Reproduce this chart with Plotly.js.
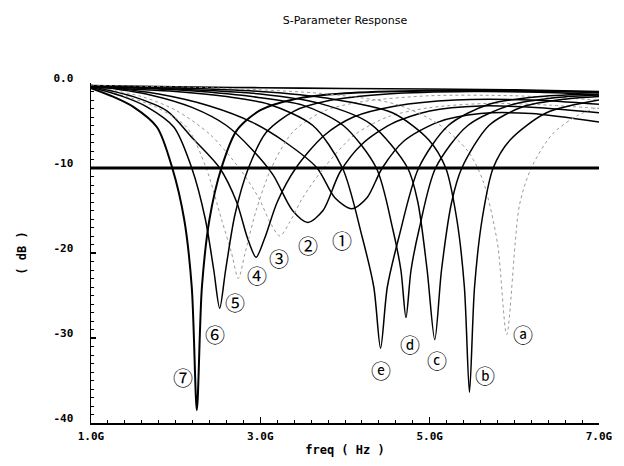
<!DOCTYPE html>
<html><head><meta charset="utf-8">
<script src="https://cdn.plot.ly/plotly-3.0.1.min.js"></script>
<style>html,body{margin:0;padding:0;background:#fff}#chart{width:624px;height:466px}</style>
</head><body><div id="chart"></div>
<script>
// ---- data (freq in GHz, response in dB) ----
const f1  = [1.0, 1.8, 2.4, 2.9, 3.3, 3.67, 3.88, 4.08, 4.26, 4.44, 4.7, 5.1, 5.6, 6.2, 7.0];
const db1 = [-0.3, -1.3, -2.7, -4.6, -7.0, -10, -13.5, -14.8, -13.5, -10, -6.8, -4.6, -3.6, -3.6, -4.6];
const f2  = [1.0, 1.7, 2.2, 2.6, 2.91, 3.15, 3.38, 3.56, 3.74, 3.94, 4.2, 4.55, 5.0, 5.6, 6.3, 7.0];
const db2 = [-0.3, -1.4, -2.9, -5.0, -7.9, -10.8, -15, -16.4, -15, -10.5, -7.2, -4.8, -3.3, -2.7, -2.9, -3.5];
const f3  = [1.0, 1.6, 2.0, 2.4, 2.75, 2.98, 3.12, 3.23, 3.34, 3.5, 3.75, 4.1, 4.5, 5.0, 5.7, 6.4, 7.0];
const db3 = [-0.4, -1.6, -3.2, -6.0, -10, -13.5, -16.5, -18, -16.5, -13.5, -10, -6.2, -4.0, -2.9, -2.4, -2.6, -3.0];
const f4  = [1.0, 1.5, 1.9, 2.2, 2.52, 2.72, 2.85, 2.95, 3.05, 3.2, 3.42, 3.75, 4.1, 4.6, 5.3, 6.2, 7.0];
const db4 = [-0.4, -1.6, -3.3, -6.5, -10, -14, -18.3, -20.5, -18.3, -14, -10, -6.2, -4.0, -2.7, -2.0, -2.0, -2.5];
const f5  = [1.0, 1.45, 1.76, 2.13, 2.36, 2.54, 2.66, 2.74, 2.82, 2.95, 3.13, 3.38, 3.75, 4.2, 5.0, 6.0, 7.0];
const db5 = [-0.5, -1.7, -2.8, -5.2, -10, -16, -20, -23, -20, -15, -10, -5.8, -3.3, -2.2, -1.5, -1.5, -2.0];
const f6  = [1.0, 1.38, 1.66, 1.98, 2.19, 2.35, 2.45, 2.52, 2.59, 2.70, 2.86, 3.07, 3.4, 3.8, 4.5, 5.5, 6.3, 7.0];
const db6 = [-0.5, -1.6, -2.8, -5.2, -10, -16, -22, -26.5, -22, -15.5, -10, -5.8, -3.3, -2.1, -1.3, -1.0, -1.1, -1.4];
const f7  = [1.0, 1.26, 1.5, 1.78, 1.96, 2.1, 2.19, 2.25, 2.31, 2.40, 2.54, 2.72, 3.0, 3.4, 4.0, 5.0, 6.0, 7.0];
const db7 = [-0.6, -1.6, -2.8, -5.2, -10, -16, -24, -38.5, -24, -16, -10, -5.6, -3.2, -1.9, -1.2, -0.9, -0.9, -1.1];
const fa  = [1.0, 2.5, 3.8, 4.6, 5.1, 5.45, 5.63, 5.8, 5.91, 6.06, 6.2, 6.45, 6.75, 7.0];
const dba = [-0.3, -0.6, -1.3, -2.5, -4.8, -8.0, -11.5, -18.8, -29.6, -14.4, -10, -6.0, -3.8, -2.8];
const fb  = [1.0, 2.0, 3.0, 3.8, 4.56, 4.99, 5.19, 5.32, 5.41, 5.47, 5.53, 5.62, 5.75, 5.95, 6.38, 7.0];
const dbb = [-0.4, -0.6, -1.0, -1.8, -3.5, -6.7, -10, -16, -24, -36.4, -24, -16, -10, -6.7, -3.5, -2.0];
const fc  = [1.0, 2.0, 3.0, 3.7, 4.3, 4.74, 4.86, 4.97, 5.06, 5.14, 5.26, 5.38, 5.7, 6.1, 6.6, 7.0];
const dbc = [-0.4, -0.7, -1.3, -2.4, -4.8, -10, -14, -22, -30.2, -22, -14, -10, -5.0, -2.8, -1.9, -1.6];
const fd  = [1.0, 2.0, 2.9, 3.5, 3.98, 4.37, 4.56, 4.66, 4.72, 4.78, 4.88, 5.07, 5.45, 5.95, 6.5, 7.0];
const dbd = [-0.4, -0.8, -1.6, -2.6, -5.0, -10, -17, -22, -27.6, -22, -17, -10, -5.0, -2.6, -1.7, -1.4];
const fe  = [1.0, 2.0, 2.6, 3.1, 3.62, 3.97, 4.2, 4.34, 4.42, 4.5, 4.64, 4.87, 5.22, 5.7, 6.3, 7.0];
const dbe = [-0.5, -1.0, -1.6, -2.5, -5.0, -10, -18, -24, -31.2, -24, -18, -10, -5.0, -2.5, -1.6, -1.3];
const fTop  = [1, 2, 3, 4, 5, 6, 7];
const dbTop = [-0.3, -0.45, -0.55, -0.65, -0.7, -0.8, -1.0];
const THRESHOLD_DB = -10;

const labelText = ['①','②','③','④','⑤','⑥','⑦','ⓐ','ⓑ','ⓒ','ⓓ','ⓔ'];
const labelF    = [3.96, 3.56, 3.22, 2.96, 2.70, 2.47, 2.09, 6.10, 5.65, 5.09, 4.77, 4.42];
const labelDB   = [-18.5, -19.1, -20.6, -22.6, -25.8, -29.6, -34.6, -29.6, -34.4, -32.6, -30.8, -33.8];

const xTickVals = [1, 3, 5, 7];
const xTickText = ['1.0G', '3.0G', '5.0G', '7.0G'];
const yTickVals = [-40, -30, -20, -10, 0];
const yTickText = ['-40', '-30', '-20', '-10', '0.0'];

// ---- drawing ----
const solid = {color: '#000', width: 1.5, shape: 'spline', smoothing: 0.8};
const faint = {color: '#9a9a9a', width: 1, dash: 'dot', shape: 'spline', smoothing: 0.8};
function tr(x, y, line) { return {x: x, y: y, type: 'scatter', mode: 'lines', line: line, hoverinfo: 'skip', showlegend: false}; }

const traces = [
  tr(fTop, dbTop, {color: '#000', width: 1.6, shape: 'spline'}),
  tr(f1, db1, solid), tr(f2, db2, solid), tr(f3, db3, faint), tr(f4, db4, solid),
  tr(f5, db5, faint), tr(f6, db6, solid), tr(f7, db7, Object.assign({}, solid, {width: 2})),
  tr(fa, dba, faint), tr(fb, dbb, solid), tr(fc, dbc, solid), tr(fd, dbd, solid), tr(fe, dbe, solid),
  tr([xTickVals[0], xTickVals[xTickVals.length - 1]], [THRESHOLD_DB, THRESHOLD_DB], {color: '#000', width: 3})
];

const annotations = labelText.map((t, i) => ({
  x: labelF[i], y: labelDB[i], xref: 'x', yref: 'y', text: t, showarrow: false,
  font: {family: 'Noto Sans CJK JP, DejaVu Sans', size: 20, color: '#000'}
}));

const tickFont = {family: 'DejaVu Sans Mono', size: 11, color: '#000', weight: 'bold'};
const layout = {
  width: 624, height: 466,
  margin: {l: 91, r: 25, t: 83, b: 43},
  paper_bgcolor: '#fff', plot_bgcolor: '#fff',
  title: {text: 'S-Parameter Response', x: 0.5, xref: 'paper', xanchor: 'center', y: 0.957, yanchor: 'middle',
          font: {family: 'DejaVu Sans', size: 11, color: '#000'}},
  xaxis: {range: [1, 7], showgrid: false, zeroline: false, showline: true, linecolor: '#000', linewidth: 1.5,
          tickmode: 'array', tickvals: xTickVals, ticktext: xTickText, ticks: 'inside', ticklen: 6, tickwidth: 1.5, tickcolor: '#000',
          minor: {dtick: 0.2, ticks: 'inside', ticklen: 3, tickcolor: '#000', tickwidth: 1, showgrid: false},
          tickfont: tickFont, ticklabelstandoff: 2,
          title: {text: 'freq ( Hz )', font: {family: 'DejaVu Sans Mono', size: 12, color: '#000', weight: 'bold'}, standoff: 4}},
  yaxis: {range: [-40, 0], showgrid: false, zeroline: false, showline: true, linecolor: '#000', linewidth: 1.5,
          tickmode: 'array', tickvals: yTickVals, ticktext: yTickText, ticks: 'inside', ticklen: 5, tickwidth: 1.5, tickcolor: '#000',
          minor: {dtick: 1, ticks: 'inside', ticklen: 3, tickcolor: '#000', tickwidth: 1, showgrid: false},
          tickfont: tickFont, ticklabelstandoff: 14, ticklabelshift: -5,
          title: {text: '( dB )', font: {family: 'DejaVu Sans Mono', size: 12, color: '#000', weight: 'bold'}, standoff: 24}},
  annotations: annotations
};

Plotly.newPlot('chart', traces, layout, {staticPlot: true, displayModeBar: false});
</script></body></html>
